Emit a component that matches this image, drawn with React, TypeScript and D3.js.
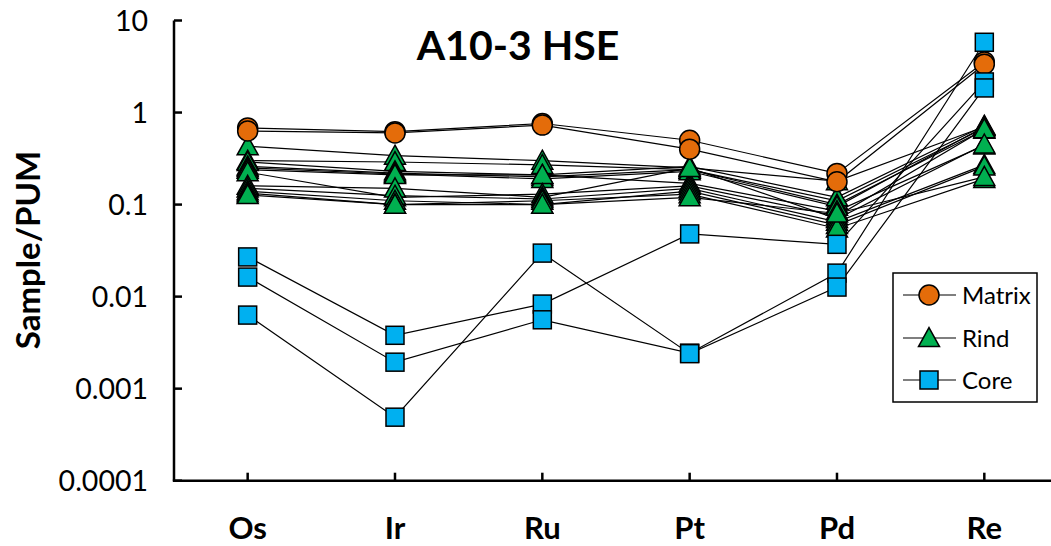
import React from "react";
import * as d3 from "d3";

const elements = ["Os", "Ir", "Ru", "Pt", "Pd", "Re"];
const yTicks = [10, 1, 0.1, 0.01, 0.001, 0.0001];
const yTickLabels = ["10", "1", "0.1", "0.01", "0.001", "0.0001"];

const matrix1 = [0.68, 0.62, 0.76, 0.5, 0.218, 3.55];
const matrix2 = [0.63, 0.6, 0.73, 0.4, 0.177, 3.35];

const rind1 = [0.43, 0.34, 0.3, 0.25, 0.18, 0.7];
const rind2 = [0.3, 0.29, 0.27, 0.24, 0.11, 0.68];
const rind3 = [0.29, 0.23, 0.21, 0.26, 0.12, 0.72];
const rind4 = [0.26, 0.22, 0.2, 0.24, 0.1, 0.65];
const rind5 = [0.25, 0.215, 0.19, 0.23, 0.095, 0.7];
const rind6 = [0.24, 0.21, 0.21, 0.17, 0.085, 0.44];
const rind7 = [0.225, 0.12, 0.13, 0.16, 0.075, 0.66];
const rind8 = [0.16, 0.15, 0.12, 0.25, 0.07, 0.45];
const rind9 = [0.15, 0.125, 0.115, 0.15, 0.065, 0.27];
const rind10 = [0.14, 0.11, 0.1, 0.14, 0.06, 0.26];
const rind11 = [0.133, 0.1, 0.11, 0.13, 0.055, 0.19];
const rind12 = [0.127, 0.1, 0.1, 0.12, 0.08, 0.2];

const core1 = [0.027, 0.0038, 0.0083, 0.048, 0.037, 2.15];
const core2 = [0.0163, 0.00194, 0.0056, 0.00243, 0.018, 5.8];
const core3 = [0.0063, 0.00049, 0.0297, 0.0024, 0.0127, 1.85];

const matrixSeries = [matrix1, matrix2];
const rindSeries = [rind1, rind2, rind3, rind4, rind5, rind6, rind7, rind8, rind9, rind10, rind11, rind12];
const coreSeries = [core1, core2, core3];

const legendLabels = ["Matrix", "Rind", "Core"];

const ORANGE = "#E46C0A";
const GREEN = "#00B050";
const BLUE = "#00B0F0";
const FONT = "Lato, 'Open Sans', sans-serif";

function Marker({ type, x, y }: { type: string; x: number; y: number }) {
  if (type === "circle") {
    return <circle cx={x} cy={y} r={10} fill={ORANGE} stroke="#000" strokeWidth={1.5} />;
  }
  if (type === "triangle") {
    const w = 10.5;
    const h = 19;
    return (
      <path
        d={`M${x},${y - h * 0.55} L${x + w},${y + h * 0.45} L${x - w},${y + h * 0.45} Z`}
        fill={GREEN}
        stroke="#000"
        strokeWidth={1.5}
        strokeLinejoin="miter"
      />
    );
  }
  return <rect x={x - 9} y={y - 9} width={18} height={18} fill={BLUE} stroke="#000" strokeWidth={1.5} />;
}

export default function App() {
  const width = 1051;
  const height = 546;
  const x0 = 174;
  const bandW = 147.33;
  const xBand = d3.scaleBand<string>().domain(elements).range([x0, x0 + bandW * elements.length]).paddingInner(0).paddingOuter(0);
  const xc = (c: string) => (xBand(c) as number) + xBand.bandwidth() / 2;
  const y = d3.scaleLog().domain([0.0001, 10]).range([480.7, 20.5]);

  const line = d3
    .line<number>()
    .x((_, i) => xc(elements[i]))
    .y((v) => y(v));

  const groups = [
    { series: rindSeries, type: "triangle" },
    { series: matrixSeries, type: "circle" },
    { series: coreSeries, type: "square" },
  ];

  const legendTypes = ["circle", "triangle", "square"];
  const legendY = [295, 338, 380];

  return (
    <svg width={width} height={height} style={{ display: "block", position: "absolute", left: 0, top: 0 }}>
      <rect x={0} y={0} width={width} height={height} fill="#fff" />
      {groups.map((g, gi) =>
        g.series.map((s, si) => (
          <path key={`l${gi}-${si}`} d={line(s) || ""} fill="none" stroke="#000" strokeWidth={1.2} />
        ))
      )}
      {groups.map((g, gi) =>
        g.series.map((s, si) =>
          s.map((v, i) => <Marker key={`m${gi}-${si}-${i}`} type={g.type} x={xc(elements[i])} y={y(v)} />)
        )
      )}
      <line x1={x0} x2={x0} y1={y(10)} y2={y(0.0001)} stroke="#000" strokeWidth={2.5} />
      <line x1={x0 - 1.2} x2={x0 + bandW * elements.length} y1={y(0.0001)} y2={y(0.0001)} stroke="#000" strokeWidth={2.5} />
      {yTicks.map((t, i) => (
        <g key={`yt${i}`}>
          <line x1={x0} x2={x0 + 8} y1={y(t)} y2={y(t)} stroke="#000" strokeWidth={2.5} />
          <text x={148} y={y(t)} dy="0.36em" textAnchor="end" fontFamily={FONT} fontSize={28.5} fill="#000">
            {yTickLabels[i]}
          </text>
        </g>
      ))}
      {elements.map((c) => (
        <g key={`xt${c}`}>
          <line x1={xc(c)} x2={xc(c)} y1={y(0.0001)} y2={y(0.0001) - 8} stroke="#000" strokeWidth={2.5} />
          <text x={xc(c)} y={539} textAnchor="middle" fontFamily={FONT} fontWeight="bold" fontSize={31} fill="#000">
            {c}
          </text>
        </g>
      ))}
      <text x={518} y={60} textAnchor="middle" fontFamily={FONT} fontWeight="bold" fontSize={41} fill="#000">
        A10-3 HSE
      </text>
      <text
        transform="translate(40,250) rotate(-90)"
        textAnchor="middle"
        fontFamily={FONT}
        fontWeight="bold"
        fontSize={33}
        fill="#000"
      >
        Sample/PUM
      </text>
      <rect x={893} y={273} width={144} height={129} fill="#fff" stroke="#000" strokeWidth={1.5} />
      {legendLabels.map((lab, i) => (
        <g key={`lg${i}`}>
          <line x1={903} x2={956} y1={legendY[i]} y2={legendY[i]} stroke="#000" strokeWidth={1.2} />
          <Marker type={legendTypes[i]} x={929} y={legendY[i]} />
          <text x={962} y={legendY[i]} dy="0.36em" fontFamily={FONT} fontSize={24} fill="#000">
            {lab}
          </text>
        </g>
      ))}
    </svg>
  );
}
